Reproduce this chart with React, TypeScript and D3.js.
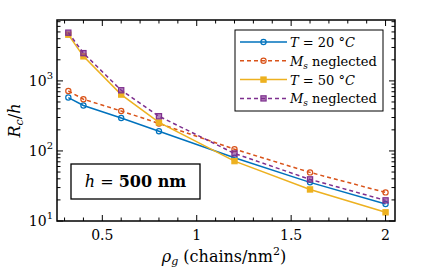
import { useEffect, useRef } from 'react';
import * as d3 from 'd3';

// densidad de injerto (chains/nm^2)
const rho = [0.32, 0.4, 0.6, 0.8, 1.2, 1.6, 2.0];
const t20 = [578, 445, 296, 191, 80, 35.6, 17.5];
const t20NoMs = [718, 547, 372, 247, 106, 49.4, 25.6];
const t50 = [4570, 2240, 638, 255, 71.6, 28.2, 13.3];
const t50NoMs = [4880, 2490, 735, 313, 92, 39.3, 19.7];
const xTickVals = [0.5, 1, 1.5, 2];
const xTickLabels = ['0.5', '1', '1.5', '2'];
const yTickExp = [1, 2, 3];

const series = [
  { vals: t20, color: '#0072BD', dash: '', marker: 'circle', label: 'T20' },
  { vals: t20NoMs, color: '#D95319', dash: '4,3', marker: 'circle', label: 'Ms' },
  { vals: t50, color: '#EDB120', dash: '', marker: 'square', label: 'T50' },
  { vals: t50NoMs, color: '#7E2F8E', dash: '4,3', marker: 'square', label: 'Ms' },
];

const FONT = 'DejaVu Serif, Liberation Serif, serif';

const App: any = () => {
  const svgRef = useRef<any>(null);

  useEffect(() => {
    const svg = d3.select(svgRef.current);
    svg.selectAll('*').remove();

    const margin = { left: 57, top: 20, right: 41, bottom: 50 };
    const W = 436, H = 271;
    const x = d3.scaleLinear().domain([0.26, 2.05]).range([margin.left, W - margin.right]);
    const y = d3.scaleLog().domain([10, 7400]).range([H - margin.bottom, margin.top]);
    const [x0, x1] = x.range();
    const [y0, y1] = y.range();

    const g = svg.append('g');

    // lineas y marcadores
    const line = d3.line<number>()
      .x((d, i) => x(rho[i]))
      .y((d) => y(d));

    const drawMarker = (sel: any, s: any, cx: number, cy: number) => {
      if (s.marker === 'circle') {
        sel.append('circle')
          .attr('cx', cx).attr('cy', cy).attr('r', 2.6)
          .attr('fill', 'none').attr('stroke', s.color).attr('stroke-width', 1.2);
      } else {
        sel.append('rect')
          .attr('x', cx - 2.6).attr('y', cy - 2.6).attr('width', 5.2).attr('height', 5.2)
          .attr('fill', s.color).attr('fill-opacity', s.dash ? 0.6 : 1)
          .attr('stroke', s.color).attr('stroke-width', 1.2);
      }
    };

    series.forEach((s) => {
      g.append('path')
        .attr('d', line(s.vals))
        .attr('fill', 'none')
        .attr('stroke', s.color)
        .attr('stroke-width', 1.5)
        .attr('stroke-dasharray', s.dash || null);
      s.vals.forEach((v, i) => drawMarker(g, s, x(rho[i]), y(v)));
    });

    // marco
    g.append('rect')
      .attr('x', x0).attr('y', y1).attr('width', x1 - x0).attr('height', y0 - y1)
      .attr('fill', 'none').attr('stroke', '#000').attr('stroke-width', 1.5);

    // ticks x
    const xMinor = d3.range(0.3, 2.05, 0.1).map((v) => +v.toFixed(2));
    xMinor.forEach((v) => {
      const major = xTickVals.some((t) => Math.abs(t - v) < 1e-6);
      const len = major ? 6 : 3.5;
      g.append('line').attr('x1', x(v)).attr('x2', x(v)).attr('y1', y0).attr('y2', y0 - len)
        .attr('stroke', '#000').attr('stroke-width', 1);
      g.append('line').attr('x1', x(v)).attr('x2', x(v)).attr('y1', y1).attr('y2', y1 + len)
        .attr('stroke', '#000').attr('stroke-width', 1);
    });
    xTickVals.forEach((v, i) => {
      g.append('text').attr('x', x(v)).attr('y', y0 + 19)
        .attr('text-anchor', 'middle').attr('font-family', FONT).attr('font-size', 14)
        .text(xTickLabels[i]);
    });

    // ticks y
    const yMinor: number[] = [];
    for (let e = 1; e <= 3; e++) for (let k = 1; k <= 9; k++) yMinor.push(k * Math.pow(10, e));
    yMinor.filter((v) => v <= 7400).forEach((v) => {
      const major = yTickExp.some((e) => Math.abs(Math.pow(10, e) - v) < 1e-6);
      const len = major ? 6 : 3.5;
      g.append('line').attr('x1', x0).attr('x2', x0 + len).attr('y1', y(v)).attr('y2', y(v))
        .attr('stroke', '#000').attr('stroke-width', 1);
      g.append('line').attr('x1', x1).attr('x2', x1 - len).attr('y1', y(v)).attr('y2', y(v))
        .attr('stroke', '#000').attr('stroke-width', 1);
    });
    yTickExp.forEach((e) => {
      const t = g.append('text').attr('x', x0 - 4).attr('y', y(Math.pow(10, e)) + 5)
        .attr('text-anchor', 'end').attr('font-family', FONT).attr('font-size', 14);
      t.append('tspan').text('10');
      t.append('tspan').attr('dy', -7).attr('font-size', 10).text(String(e));
    });

    // etiqueta y
    const yl = g.append('text')
      .attr('transform', `translate(20,${(y0 + y1) / 2}) rotate(-90)`)
      .attr('text-anchor', 'middle').attr('font-family', FONT).attr('font-size', 16);
    yl.append('tspan').attr('font-style', 'italic').text('R');
    yl.append('tspan').attr('font-style', 'italic').attr('font-size', 11).attr('dy', 3).text('c');
    yl.append('tspan').attr('dy', -3).text('/');
    yl.append('tspan').attr('font-style', 'italic').text('h');

    // etiqueta x
    const xl = g.append('text')
      .attr('x', 224).attr('y', 262)
      .attr('text-anchor', 'middle').attr('font-family', FONT).attr('font-size', 16);
    xl.append('tspan').attr('font-style', 'italic').text('ρ');
    xl.append('tspan').attr('font-style', 'italic').attr('font-size', 11).attr('dy', 3).text('g');
    xl.append('tspan').attr('dy', -3).text(' (chains/nm');
    xl.append('tspan').attr('dy', -7).attr('font-size', 11).text('2');
    xl.append('tspan').attr('dy', 7).text(')');

    // leyenda
    const lg = g.append('g');
    lg.append('rect').attr('x', 235).attr('y', 30).attr('width', 148).attr('height', 81)
      .attr('fill', '#fff').attr('stroke', '#000').attr('stroke-width', 1);
    series.forEach((s, i) => {
      const ly = 42 + i * 18.8;
      lg.append('line').attr('x1', 240).attr('x2', 287).attr('y1', ly).attr('y2', ly)
        .attr('stroke', s.color).attr('stroke-width', 1.5)
        .attr('stroke-dasharray', s.dash || null);
      drawMarker(lg, s, 263.5, ly);
      const t = lg.append('text').attr('x', 290).attr('y', ly + 5)
        .attr('font-family', FONT).attr('font-size', 13);
      if (s.label === 'Ms') {
        t.append('tspan').attr('font-style', 'italic').text('M');
        t.append('tspan').attr('font-style', 'italic').attr('font-size', 9).attr('dy', 3).text('s');
        t.append('tspan').attr('dy', -3).text(' neglected');
      } else {
        t.append('tspan').attr('font-style', 'italic').text('T');
        t.append('tspan').text(s.label === 'T20' ? ' = 20 °' : ' = 50 °');
        t.append('tspan').attr('font-style', 'italic').text('C');
      }
    });

    // caja h
    const hb = g.append('g');
    hb.append('rect').attr('x', 71).attr('y', 164).attr('width', 129).attr('height', 35)
      .attr('fill', '#fff').attr('stroke', '#000').attr('stroke-width', 1.3);
    const ht = hb.append('text').attr('x', 135.5).attr('y', 187)
      .attr('text-anchor', 'middle').attr('font-family', FONT).attr('font-size', 16);
    ht.append('tspan').attr('font-style', 'italic').text('h');
    ht.append('tspan').text(' = ');
    ht.append('tspan').attr('font-weight', 'bold').text('500 nm');
  }, []);

  return (
    <div style={{ position: 'absolute', left: 0, top: 0 }}>
      <svg ref={svgRef} width={436} height={271} style={{ display: 'block', background: '#fff' }} />
    </div>
  );
};

export default App;
